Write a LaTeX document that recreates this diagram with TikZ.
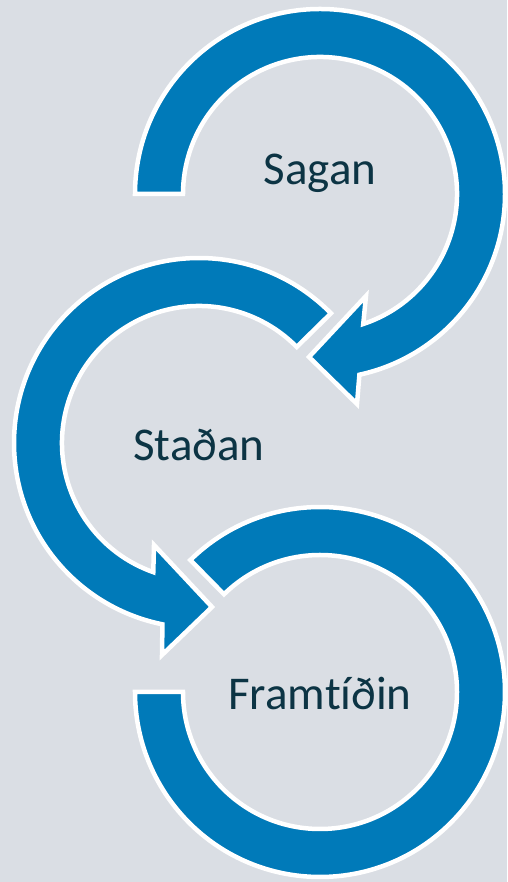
\documentclass[tikz,border=0pt]{standalone}
\usepackage{fontspec}
\setmainfont[Ligatures={NoCommon}]{Carlito}
\definecolor{bg}{RGB}{218,222,228}
\definecolor{arrowblue}{RGB}{0,122,185}
\definecolor{txt}{RGB}{12,52,68}
\begin{document}
\begin{tikzpicture}[x=1pt,y=1pt,
  ringarrow/.style={fill=arrowblue, draw=white, line width=4.5pt, line join=miter},
  lbl/.style={font=\fontsize{47}{56}\selectfont, text=txt, anchor=base, inner sep=0pt}]
\fill[bg] (0,0) rectangle (507,882);
\useasboundingbox (0,0) rectangle (507,882);
\coordinate (c1) at (320,688);
\coordinate (c2) at (199,439);
\coordinate (c3) at (320,190);
% ring 1
\draw[ringarrow] ([shift={(180:185)}]c1) arc[start angle=180,end angle=-77.7,radius=185]
  -- (357,478) -- (309,525) -- (366,586)
  -- ([shift={(-71.6:137)}]c1) arc[start angle=-71.6,end angle=180,radius=137] -- cycle;
% ring 2
\draw[ringarrow] ([shift={(44.5:185)}]c2) arc[start angle=44.5,end angle=258.6,radius=185]
  -- (162,227) -- (212,275) -- (154,337)
  -- ([shift={(250.5:137)}]c2) arc[start angle=250.5,end angle=44.5,radius=137] -- cycle;
% ring 3
\draw[ringarrow] ([shift={(134.5:185)}]c3) arc[start angle=134.5,end angle=-180,radius=185]
  -- ([shift={(180:137)}]c3) arc[start angle=-180,end angle=134.5,radius=137] -- cycle;
\node[lbl] (sagan) at (320,697) {Sagan};
\node[lbl] (stadan) at (199,421) {Staðan};
\node[lbl] (framtidin) at (320,172) {Framtíðin};
\end{tikzpicture}
\end{document}
